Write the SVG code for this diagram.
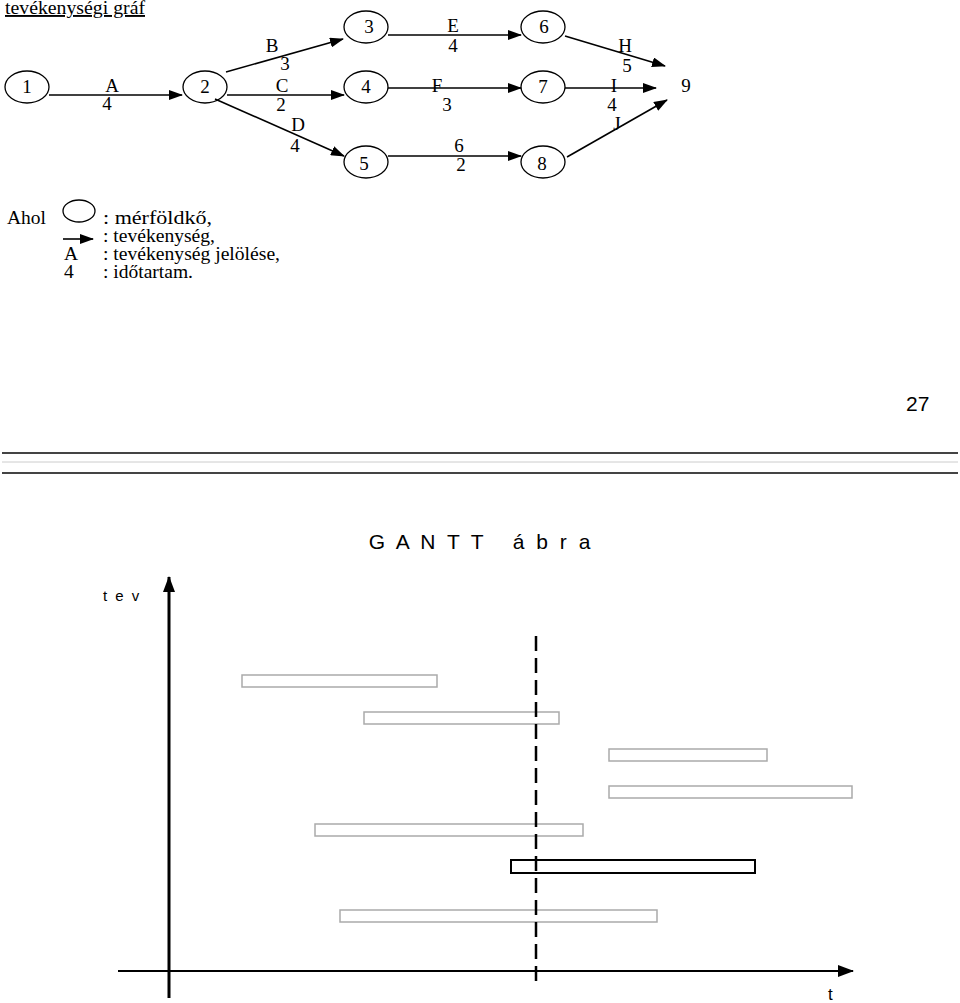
<svg xmlns="http://www.w3.org/2000/svg" width="960" height="1003" viewBox="0 0 960 1003">
<style>
.s{font-family:"Liberation Serif","Times New Roman",serif;font-size:19px;fill:#000}
.l{font-size:19.5px}
.m{text-anchor:middle}
.n{fill:none;stroke:#000;stroke-width:1.3}
.c{stroke:#000;stroke-width:1.6;fill:none}
.bar{fill:#fff;stroke:#aaa;stroke-width:1.5}
.sa{font-family:"Liberation Sans",Arial,sans-serif;fill:#000}
</style>
<defs>
<marker id="ah" markerUnits="userSpaceOnUse" markerWidth="14" markerHeight="10" refX="13" refY="5" orient="auto"><path d="M0,0 L14,5 L0,10 Z" fill="#000"/></marker>
<marker id="ah2" markerUnits="userSpaceOnUse" markerWidth="16" markerHeight="12" refX="15" refY="6" orient="auto"><path d="M0,0 L16,6 L0,12 Z" fill="#000"/></marker>
</defs>
<rect width="960" height="1003" fill="#fff"/>
<text class="s" x="5" y="14" font-size="18.5" text-decoration="underline" textLength="140" lengthAdjust="spacingAndGlyphs">tevékenységi gráf</text>

<g id="connectors">
<line class="c" x1="49" y1="95" x2="182" y2="95" marker-end="url(#ah)"/>
<line class="c" x1="226" y1="72" x2="343" y2="39" marker-end="url(#ah)"/>
<line class="c" x1="227" y1="95" x2="344" y2="95" marker-end="url(#ah)"/>
<line class="c" x1="215" y1="99" x2="344" y2="156" marker-end="url(#ah)"/>
<line class="c" x1="388" y1="35" x2="521" y2="35" marker-end="url(#ah)"/>
<line class="c" x1="388" y1="88" x2="521" y2="88" marker-end="url(#ah)"/>
<line class="c" x1="388" y1="156" x2="521" y2="156" marker-end="url(#ah)"/>
<line class="c" x1="565" y1="36" x2="665" y2="66" marker-end="url(#ah)"/>
<line class="c" x1="565" y1="88" x2="656" y2="88" marker-end="url(#ah)"/>
<line class="c" x1="567" y1="157" x2="667" y2="100" marker-end="url(#ah)"/>
<text class="s m" x="272" y="52">B</text><text class="s m" x="285" y="70">3</text>
<text class="s m" x="112" y="92">A</text><text class="s m" x="107" y="110">4</text>
<text class="s m" x="282" y="92">C</text><text class="s m" x="281" y="111">2</text>
<text class="s m" x="298" y="131">D</text><text class="s m" x="295" y="152">4</text>
<text class="s m" x="453" y="32">E</text><text class="s m" x="453" y="52">4</text>
<text class="s m" x="437" y="92">F</text><text class="s m" x="447" y="111">3</text>
<text class="s m" x="459" y="152">6</text><text class="s m" x="461" y="171">2</text>
<text class="s m" x="625" y="52">H</text><text class="s m" x="627" y="72">5</text>
<text class="s m" x="614" y="92">I</text><text class="s m" x="612" y="111">4</text>
<text class="s m" x="617" y="130">J</text>
</g>

<g id="n1"><ellipse class="n" cx="27" cy="87" rx="22" ry="16"/><text class="s m" x="27" y="93">1</text></g>
<g id="n2"><ellipse class="n" cx="205" cy="87" rx="22" ry="16"/><text class="s m" x="205" y="93">2</text></g>
<g id="n3"><ellipse class="n" cx="366" cy="27" rx="22" ry="16"/><text class="s m" x="369" y="33">3</text></g>
<g id="n4"><ellipse class="n" cx="366" cy="87" rx="22" ry="16"/><text class="s m" x="366" y="93">4</text></g>
<g id="n5"><ellipse class="n" cx="366" cy="162" rx="22" ry="16"/><text class="s m" x="364" y="170">5</text></g>
<g id="n6"><ellipse class="n" cx="543" cy="27" rx="22" ry="16"/><text class="s m" x="544" y="33">6</text></g>
<g id="n7"><ellipse class="n" cx="543" cy="87" rx="22" ry="16"/><text class="s m" x="543" y="93">7</text></g>
<g id="n8"><ellipse class="n" cx="543" cy="162" rx="22" ry="16"/><text class="s m" x="542" y="170">8</text></g>
<g id="n9"><text class="s m" x="686" y="92">9</text></g>

<g id="legend">
<text class="s l" x="7" y="224">Ahol</text>
<ellipse class="n" cx="79" cy="211" rx="16" ry="11"/>
<text class="s l" x="103" y="224" textLength="109" lengthAdjust="spacingAndGlyphs">: mérföldkő,</text>
<line class="c" x1="63" y1="239" x2="93" y2="239" marker-end="url(#ah)"/>
<text class="s l" x="103" y="242" textLength="112" lengthAdjust="spacingAndGlyphs">: tevékenység,</text>
<text class="s l" x="64" y="260">A</text>
<text class="s l" x="103" y="260" textLength="177" lengthAdjust="spacingAndGlyphs">: tevékenység jelölése,</text>
<text class="s l" x="64" y="278">4</text>
<text class="s l" x="103" y="278" textLength="90" lengthAdjust="spacingAndGlyphs">: időtartam.</text>
</g>

<g id="page">
<text class="sa" x="906" y="411" font-size="21">27</text>
<line x1="2" y1="453" x2="958" y2="453" stroke="#444" stroke-width="2"/>
<line x1="2" y1="462" x2="958" y2="462" stroke="#ccc" stroke-width="1"/>
<line x1="2" y1="473" x2="958" y2="473" stroke="#444" stroke-width="2"/>
</g>

<g id="gantt">
<text class="sa" x="481" y="549" font-size="21" text-anchor="middle" letter-spacing="3" xml:space="preserve">G A N T T   á b r a</text>
<text class="sa" x="103" y="601" font-size="15" letter-spacing="2">t e v</text>
<line x1="169" y1="998" x2="169" y2="577" stroke="#000" stroke-width="3" marker-end="url(#ah2)"/>
<line x1="118" y1="971" x2="853" y2="971" stroke="#000" stroke-width="2" marker-end="url(#ah2)"/>
<text class="sa" x="828" y="1000" font-size="17">t</text>
<rect class="bar" x="242" y="675" width="195" height="12"/>
<rect class="bar" x="364" y="712" width="195" height="12"/>
<rect class="bar" x="609" y="749" width="158" height="12"/>
<rect class="bar" x="609" y="786" width="243" height="12"/>
<rect class="bar" x="315" y="824" width="268" height="12"/>
<rect x="511" y="860" width="244" height="13" fill="#fff" stroke="#000" stroke-width="2"/>
<rect class="bar" x="340" y="910" width="317" height="12"/>
<line x1="536" y1="636" x2="536" y2="985" stroke="#000" stroke-width="2.5" stroke-dasharray="15,7"/>
</g>
</svg>
